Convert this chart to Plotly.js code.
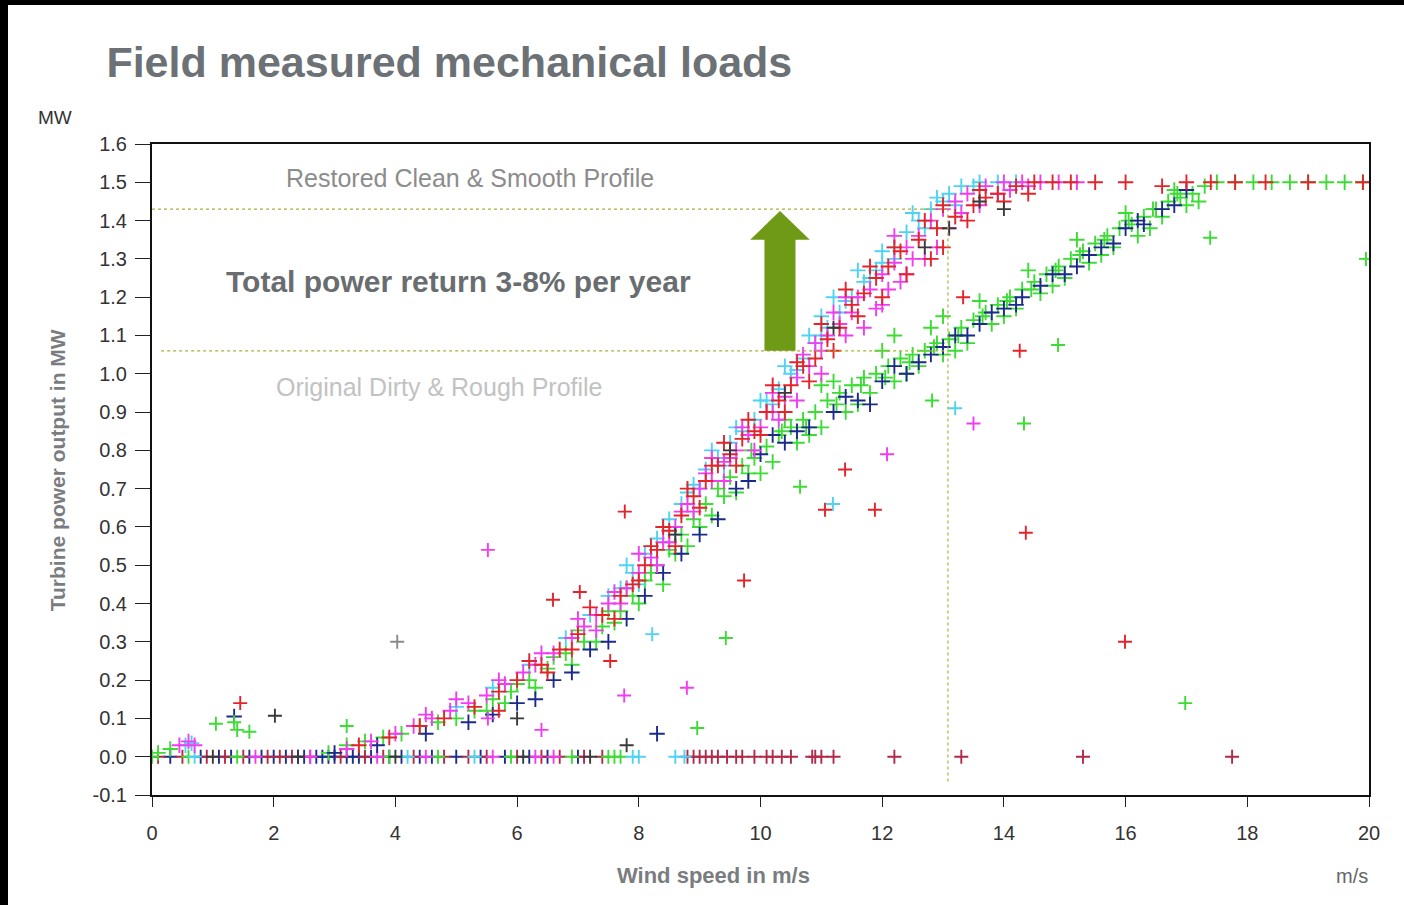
<!DOCTYPE html>
<html>
<head>
<meta charset="utf-8">
<script src="https://cdn.plot.ly/plotly-3.0.1.min.js"></script>
<style>
  html, body { margin: 0; padding: 0; background: #000; width: 1404px; height: 905px; overflow: hidden; }
  #chart { position: absolute; left: 8px; top: 5px; width: 1396px; height: 900px; background: #fff; }
</style>
</head>
<body>
<div id="chart"></div>
<script>
// ---------------- DATA ----------------
// Clean (restored) profile bands
const cleanCyanX = [5.0,5.6,6.2,6.8,7.2,7.5,7.7,7.9,8.1,8.3,8.5,8.7,8.9,9.1,9.3,9.5,9.7,9.9,10.1,10.3,10.5,10.7,10.9,11.0,11.1,11.3,11.5,11.7,11.9,12.0,12.2,12.4,12.6,12.8,13.0,13.1,13.3,13.6,13.9,14.2,0.55,0.65,
  7.8,8.0,8.4,8.6,8.8,9.0,9.2,9.4,9.6,9.8,10.0,10.2,10.4,10.6,10.8,11.0,11.2,11.4,11.6,11.8,12.0,12.2,12.5,12.7,12.9,13.2,13.5];
const cleanCyanY = [0.13,0.18,0.24,0.31,0.37,0.42,0.44,0.48,0.53,0.57,0.62,0.66,0.71,0.75,0.78,0.82,0.85,0.88,0.93,0.96,1.0,1.04,1.08,1.1,1.12,1.16,1.2,1.24,1.27,1.29,1.33,1.37,1.40,1.43,1.45,1.47,1.49,1.5,1.5,1.5,0.03,0.035,
  0.50,0.45,0.60,0.58,0.69,0.70,0.80,0.76,0.86,0.84,0.93,0.92,1.02,1.01,1.10,1.15,1.20,1.19,1.27,1.25,1.32,1.30,1.42,1.38,1.46,1.44,1.49];

const cleanMagX = [3.2,3.6,4.0,4.3,4.6,4.9,5.2,5.5,5.8,6.1,6.3,6.6,6.9,7.1,7.3,7.5,7.6,7.8,8.0,8.2,8.4,8.6,8.8,9.0,9.1,9.2,9.4,9.5,9.6,9.8,10.0,10.1,10.2,10.4,10.6,10.8,10.9,11.0,11.1,11.3,11.4,11.5,11.6,11.8,11.9,12.0,12.1,12.2,12.3,12.4,12.5,12.6,12.8,13.0,13.2,13.4,13.7,14.0,14.3,14.6,14.9,15.2,0.45,0.6,0.7,
  7.0,7.3,7.7,8.0,8.3,8.5,8.7,8.9,9.2,9.4,9.7,9.9,10.2,10.3,10.6,10.7,11.0,11.2,11.4,11.7,12.0,12.2,12.4,12.7,12.9,13.1,13.3,13.6,13.9,14.1,14.4,4.5,5.0,5.7,6.4];
const cleanMagY = [0.02,0.04,0.06,0.08,0.10,0.12,0.14,0.16,0.19,0.22,0.24,0.27,0.31,0.34,0.37,0.40,0.43,0.44,0.48,0.52,0.56,0.60,0.66,0.70,0.74,0.72,0.77,0.78,0.80,0.84,0.86,0.90,0.90,0.94,0.99,1.02,1.08,1.06,1.10,1.13,1.20,1.16,1.20,1.22,1.17,1.26,1.22,1.29,1.24,1.33,1.30,1.36,1.40,1.43,1.45,1.47,1.49,1.5,1.5,1.5,1.5,1.5,0.03,0.04,0.03,
  0.36,0.33,0.40,0.53,0.50,0.56,0.64,0.64,0.78,0.72,0.86,0.80,0.95,0.88,0.93,1.05,1.00,1.16,1.10,1.12,1.18,1.36,1.26,1.30,1.33,1.38,1.42,1.44,1.47,1.48,1.49,0.11,0.15,0.20,0.27];

const cleanRedX = [3.4,3.9,4.4,4.8,5.3,5.7,6.0,6.4,6.7,7.0,7.4,7.7,7.9,8.1,8.3,8.5,8.7,8.9,9.1,9.3,9.5,9.7,9.9,10.1,10.3,10.5,10.7,10.9,11.1,11.3,11.5,11.7,11.9,12.1,12.3,12.6,12.9,13.0,13.2,13.5,13.7,13.9,14.2,14.5,14.8,15.1,15.5,16.0,16.6,17.0,17.4,17.8,18.3,19.0,19.9,
  6.2,6.5,6.9,7.2,7.6,8.0,8.2,8.4,8.6,8.8,9.0,9.2,9.4,9.6,9.8,10.0,10.2,10.4,10.6,10.8,11.0,11.2,11.4,11.6,11.8,12.0,12.2,12.4,12.7,12.8,13.0,13.4,13.6,14.0,14.4];
const cleanRedY = [0.03,0.05,0.08,0.10,0.13,0.17,0.20,0.24,0.28,0.32,0.37,0.42,0.45,0.50,0.54,0.59,0.63,0.68,0.72,0.76,0.79,0.83,0.85,0.90,0.93,0.97,1.02,1.04,1.09,1.12,1.18,1.21,1.25,1.28,1.32,1.35,1.38,1.33,1.41,1.44,1.46,1.47,1.49,1.5,1.5,1.5,1.5,1.5,1.49,1.5,1.5,1.5,1.5,1.5,1.5,
  0.25,0.22,0.28,0.39,0.36,0.46,0.55,0.60,0.55,0.70,0.65,0.76,0.82,0.76,0.88,0.84,0.97,0.90,1.03,0.98,1.13,1.06,1.22,1.15,1.28,1.20,1.33,1.26,1.40,1.30,1.44,1.40,1.48,1.45,1.47];

const cleanBlackX = [8.6,9.5,10.4,11.2,12.7,13.1,13.6,14.0,2.02,6.0,7.8];
const cleanBlackY = [0.58,0.80,0.95,1.12,1.33,1.38,1.45,1.43,0.107,0.10,0.03];

// Dirty (original) profile bands
const dirtyGreenX = [2.9,3.2,3.5,3.8,4.1,4.4,4.7,5.0,5.3,5.6,5.9,6.2,6.5,6.8,7.1,7.4,7.7,7.9,8.1,8.3,8.5,8.7,8.9,9.0,9.1,9.3,9.4,9.5,9.7,9.8,9.9,10.1,10.2,10.3,10.4,10.5,10.6,10.7,10.9,11.0,11.1,11.2,11.3,11.4,11.5,11.7,11.8,11.9,12.0,12.1,12.2,12.3,12.5,12.6,12.7,12.8,12.9,13.0,13.1,13.3,13.4,13.5,13.6,13.7,13.8,13.9,14.1,14.2,14.3,14.4,14.5,14.6,14.7,14.9,15.0,15.1,15.2,15.3,15.4,15.5,15.7,15.8,15.9,16.0,16.1,16.2,16.3,16.5,16.6,16.7,16.8,16.9,17.0,17.1,17.3,17.5,17.8,18.1,18.4,18.7,19.0,19.3,19.6,19.9,0.1,0.3,
  5.5,5.8,6.0,6.3,6.6,6.9,7.0,7.3,7.5,7.6,7.8,8.0,8.2,8.4,8.6,8.8,9.2,9.6,10.0,10.8,11.6,12.4,13.2,14.0,14.8,15.6,16.4,17.2,12.2,13.0,11.0,
  9.85,10.35,10.75,11.25,11.65,12.05,12.45,12.85,13.25,13.65,14.05,14.45,14.85,15.25,15.65,16.05,16.45,16.85];
const dirtyGreenY = [0.01,0.03,0.04,0.05,0.06,0.08,0.09,0.10,0.12,0.15,0.17,0.20,0.23,0.27,0.30,0.34,0.38,0.42,0.46,0.50,0.54,0.58,0.62,0.60,0.66,0.70,0.68,0.73,0.76,0.74,0.78,0.81,0.77,0.84,0.88,0.86,0.82,0.88,0.90,0.86,0.93,0.98,0.95,0.90,0.97,0.99,0.95,1.00,1.06,1.02,0.98,1.04,1.05,1.02,1.06,1.12,1.08,1.05,1.09,1.12,1.08,1.14,1.19,1.16,1.13,1.18,1.20,1.17,1.22,1.27,1.24,1.21,1.26,1.28,1.25,1.30,1.35,1.32,1.29,1.34,1.36,1.33,1.38,1.42,1.39,1.36,1.41,1.43,1.41,1.45,1.48,1.46,1.44,1.47,1.49,1.5,1.5,1.5,1.5,1.5,1.5,1.5,1.5,1.5,0.01,0.02,
  0.12,0.14,0.19,0.18,0.26,0.24,0.33,0.30,0.38,0.35,0.44,0.40,0.48,0.45,0.53,0.55,0.63,0.69,0.74,0.84,0.92,1.00,1.06,1.15,1.23,1.31,1.38,1.45,1.10,1.15,0.97,
  0.80,0.85,0.86,0.92,0.97,0.99,1.03,1.07,1.10,1.15,1.19,1.22,1.27,1.31,1.35,1.40,1.43,1.47];

const dirtyNavyX = [3.0,3.7,4.5,5.2,6.0,6.6,7.2,7.8,8.4,9.0,9.6,10.0,10.4,10.8,11.2,11.6,12.0,12.4,12.8,13.0,13.2,13.6,14.0,14.3,14.6,15.0,15.2,15.6,16.0,16.3,16.6,17.0,8.3,1.35,
  5.6,6.3,6.9,7.5,8.1,8.7,9.3,9.8,10.2,10.6,11.4,11.8,12.2,12.6,13.4,13.8,14.2,14.8,15.4,15.8,16.2,16.8];
const dirtyNavyY = [0.01,0.03,0.06,0.09,0.14,0.20,0.28,0.36,0.48,0.58,0.70,0.79,0.82,0.86,0.90,0.93,0.98,1.00,1.05,1.07,1.10,1.13,1.17,1.20,1.23,1.26,1.28,1.33,1.38,1.39,1.43,1.48,0.06,0.105,
  0.11,0.15,0.22,0.30,0.42,0.53,0.62,0.72,0.84,0.85,0.94,0.92,1.02,1.03,1.10,1.16,1.18,1.26,1.31,1.34,1.40,1.44];

// Scattered outliers
const outRedX = [1.45,6.59,7.03,7.77,7.53,9.73,11.06,11.88,11.39,14.36,15.99,14.26,13.33,5.7];
const outRedY = [0.14,0.41,0.43,0.64,0.25,0.46,0.645,0.645,0.75,0.585,0.30,1.06,1.20,0.12];
const outMagX = [5.52,7.76,8.79,12.08,13.5,5.52,6.4];
const outMagY = [0.54,0.16,0.18,0.79,0.87,0.10,0.07];
const outCyanX = [8.22,11.19,13.2];
const outCyanY = [0.32,0.66,0.91];
const outGreenX = [1.05,1.35,1.4,1.6,8.96,9.43,10.65,12.82,14.33,14.89,16.98,17.39,19.95,3.2];
const outGreenY = [0.086,0.09,0.07,0.065,0.075,0.31,0.705,0.93,0.87,1.075,0.14,1.355,1.30,0.08];
const outGrayX = [4.03];
const outGrayY = [0.30];

// Points sitting on the zero line
const zeroNavyX = [0.3,0.8,1.1,1.3,1.6,1.8,2.0,2.2,2.4,2.5,2.7,2.8,3.0,3.2,3.4,3.6,3.9,4.1,4.4,4.6,5.0,5.4,5.8,6.2,6.5,7.0,2.9,3.3];
const zeroMaroonX = [0.1,0.5,0.9,1.2,1.5,1.9,2.1,2.3,2.6,3.1,3.5,3.8,4.3,4.8,5.2,5.5,6.0,6.4,6.7,7.1,7.4,8.8,8.9,9.0,9.1,9.2,9.3,9.45,9.6,9.7,9.9,10.1,10.2,10.35,10.5,10.85,10.9,11.0,11.2,12.2,13.3,15.3,17.75];
const zeroGreenX = [0.0,0.6,1.4,3.9,4.7,5.9,6.9,7.5,7.6,7.7];
const zeroMagX = [1.7,2.6,3.7,4.5,5.6,6.3,6.6];
const zeroCyanX = [0.7,4.2,5.3,7.9,8.0,8.6,8.75];
const zeroBlackX = [1.0,2.4,4.0,6.1,7.2];

// Annotation values
const cleanLevel = 1.43, dirtyLevel = 1.06, refSpeed = 13.08;
const arrowX = 10.32;

// ---------------- CHART ----------------
const FONT = 'Arial, "Liberation Sans", sans-serif';
const COLORS = {
  cyan: '#4fd3f2', magenta: '#f23cf2', red: '#e3252b', maroon: '#b02a48',
  navy: '#1c2a8c', green: '#3cdc34', black: '#3a3a3a', gray: '#8a8a8a'
};
function zeros(arr) { return arr.map(() => 0); }
function series(x, y, color, size) {
  return {
    type: 'scatter', mode: 'markers', x: x, y: y, showlegend: false, hoverinfo: 'skip',
    marker: { symbol: 'cross-thin', size: size || 10, color: color, line: { color: color, width: 1.9 } }
  };
}
const traces = [
  series(zeroNavyX, zeros(zeroNavyX), COLORS.navy),
  series(zeroMaroonX, zeros(zeroMaroonX), COLORS.maroon),
  series(zeroGreenX, zeros(zeroGreenX), COLORS.green),
  series(zeroMagX, zeros(zeroMagX), COLORS.magenta),
  series(zeroCyanX, zeros(zeroCyanX), COLORS.cyan),
  series(zeroBlackX, zeros(zeroBlackX), COLORS.black),
  series(dirtyGreenX, dirtyGreenY, COLORS.green, 11),
  series(dirtyNavyX, dirtyNavyY, COLORS.navy, 11),
  series(cleanCyanX, cleanCyanY, COLORS.cyan, 11),
  series(cleanMagX, cleanMagY, COLORS.magenta, 11),
  series(cleanRedX, cleanRedY, COLORS.red, 11),
  series(cleanBlackX, cleanBlackY, COLORS.black),
  series(outRedX, outRedY, COLORS.red),
  series(outMagX, outMagY, COLORS.magenta),
  series(outCyanX, outCyanY, COLORS.cyan),
  series(outGreenX, outGreenY, COLORS.green),
  series(outGrayX, outGrayY, COLORS.gray)
];

const tickY = [];
for (let v = -1; v <= 16; v++) tickY.push(v / 10);

const layout = {
  width: 1396, height: 900,
  paper_bgcolor: '#fff', plot_bgcolor: '#fff',
  font: { family: FONT },
  margin: { l: 144, r: 35, t: 139, b: 110 },
  title: {
    text: 'Field measured mechanical loads',
    xref: 'container', yref: 'container', x: 0.0705, xanchor: 'left', y: 0.937, yanchor: 'middle',
    font: { family: FONT, size: 43, color: '#6c7176', weight: 'bold' }
  },
  xaxis: {
    range: [0, 20], tickvals: [0,2,4,6,8,10,12,14,16,18,20], ticktext: ['0','2','4','6','8','10','12','14','16','18','20'],
    showgrid: false, zeroline: false, showline: true, linecolor: '#111', linewidth: 2, mirror: true,
    ticks: 'outside', ticklen: 10, tickwidth: 1, tickcolor: '#222', ticklabelstandoff: 9,
    tickfont: { family: FONT, size: 20, color: '#333' }
  },
  yaxis: {
    range: [-0.1, 1.6], tickvals: tickY, ticktext: tickY.map(v => v.toFixed(1)),
    showgrid: false, zeroline: false, showline: true, linecolor: '#111', linewidth: 2, mirror: true,
    ticks: 'outside', ticklen: 15, tickwidth: 1, tickcolor: '#222', ticklabelstandoff: 4,
    tickfont: { family: FONT, size: 20, color: '#333' }
  },
  shapes: [
    { type: 'line', xref: 'x', yref: 'y', x0: 0, x1: refSpeed, y0: cleanLevel, y1: cleanLevel,
      line: { color: '#a9b23c', width: 1.2, dash: 'dot' } },
    { type: 'line', xref: 'x', yref: 'y', x0: 0.15, x1: refSpeed, y0: dirtyLevel, y1: dirtyLevel,
      line: { color: '#a9b23c', width: 1.2, dash: 'dot' } },
    { type: 'line', xref: 'x', yref: 'y', x0: refSpeed, x1: refSpeed, y0: -0.065, y1: cleanLevel,
      line: { color: '#a9b23c', width: 1.2, dash: 'dot' } },
    { type: 'path', xref: 'x', yref: 'y', layer: 'above',
      path: `M ${arrowX-0.255},${dirtyLevel} L ${arrowX+0.255},${dirtyLevel} L ${arrowX+0.255},1.35 L ${arrowX+0.49},1.35 L ${arrowX},${cleanLevel-0.005} L ${arrowX-0.49},1.35 L ${arrowX-0.255},1.35 Z`,
      fillcolor: '#6f9a16', line: { width: 0 } }
  ],
  annotations: [
    { xref: 'x', yref: 'y', x: 5.23, y: 1.512, xanchor: 'center', yanchor: 'middle', text: 'Restored Clean &amp; Smooth Profile', showarrow: false,
      font: { family: FONT, size: 25, color: '#8c8c8c' } },
    { xref: 'x', yref: 'y', x: 5.03, y: 1.24, xanchor: 'center', yanchor: 'middle', text: '<b>Total power return 3-8% per year</b>', showarrow: false,
      font: { family: FONT, size: 30, color: '#6a6d70' } },
    { xref: 'x', yref: 'y', x: 4.73, y: 0.966, xanchor: 'center', yanchor: 'middle', text: 'Original Dirty &amp; Rough Profile', showarrow: false,
      font: { family: FONT, size: 25, color: '#c2c2c2' } },
    { xref: 'paper', yref: 'paper', x: -0.0797, y: 1.040, xanchor: 'center', yanchor: 'middle', text: 'MW', showarrow: false,
      font: { family: FONT, size: 19, color: '#333' } },
    { xref: 'paper', yref: 'paper', x: -0.078, y: 0.499, xanchor: 'center', yanchor: 'middle', text: '<b>Turbine power output in MW</b>', showarrow: false, textangle: -90,
      font: { family: FONT, size: 21, color: '#7a7d80' } },
    { xref: 'paper', yref: 'paper', x: 0.461, y: -0.123, xanchor: 'center', yanchor: 'middle', text: '<b>Wind speed in m/s</b>', showarrow: false,
      font: { family: FONT, size: 22, color: '#7a7d80' } },
    { xref: 'paper', yref: 'paper', x: 0.986, y: -0.124, xanchor: 'center', yanchor: 'middle', text: 'm/s', showarrow: false,
      font: { family: FONT, size: 20, color: '#666' } }
  ]
};

Plotly.newPlot('chart', traces, layout, { displayModeBar: false, staticPlot: true });
</script>
</body>
</html>
